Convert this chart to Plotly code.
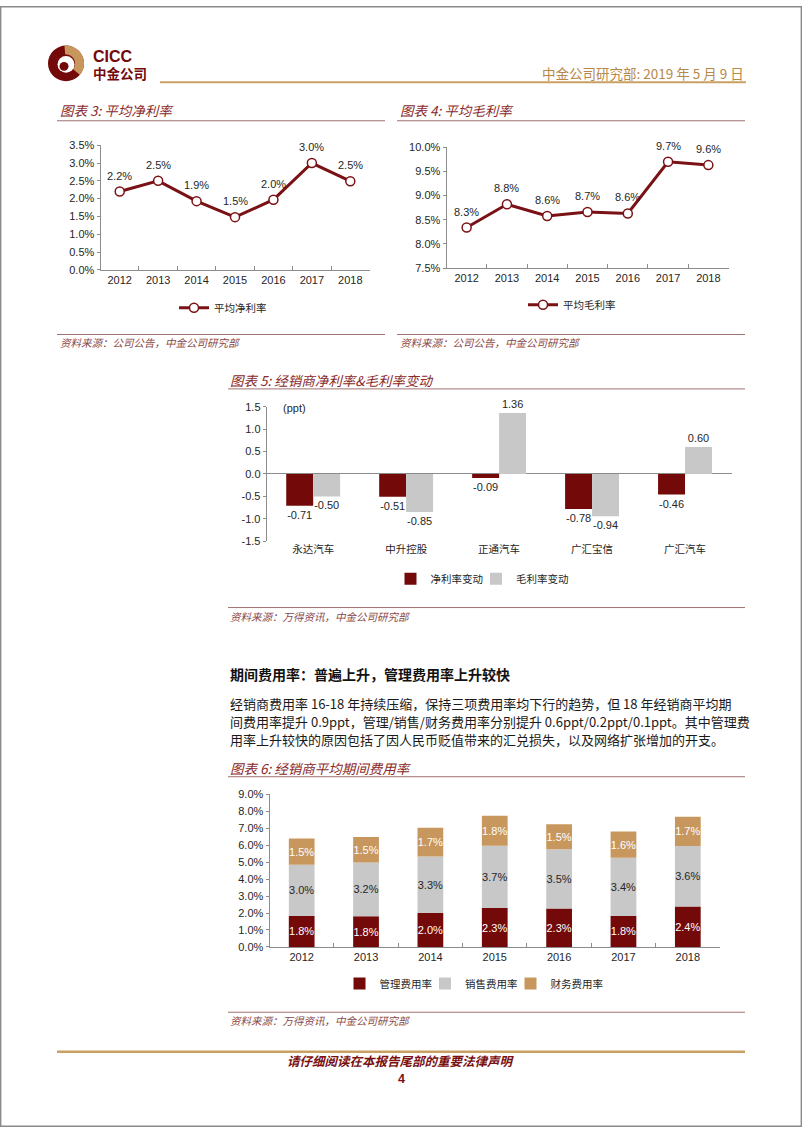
import math
import plotly.graph_objects as go

W, H = 802, 1133


def X(px):
    return px / W


def Y(py):
    return 1 - py / H


# ---------------- data ----------------
years = ["2012", "2013", "2014", "2015", "2016", "2017", "2018"]
avg_net_margin = [2.2, 2.5, 1.93, 1.48, 1.97, 3.0, 2.49]        # %
avg_gross_margin = [8.34, 8.82, 8.58, 8.66, 8.63, 9.70, 9.63]   # %

dealers = ["永达汽车", "中升控股", "正通汽车", "广汇宝信", "广汇汽车"]
net_margin_chg = [-0.71, -0.51, -0.09, -0.78, -0.46]            # ppt
gross_margin_chg = [-0.50, -0.85, 1.36, -0.94, 0.60]            # ppt
ppt_ticks = [-1.5, -1.0, -0.5, 0.0, 0.5, 1.0, 1.5]
ppt_ticktext = ["-1.5", "-1.0", "-0.5", "0.0", "0.5", "1.0", "1.5"]

admin_ratio = [1.84, 1.81, 2.00, 2.29, 2.27, 1.83, 2.39]        # %
selling_ratio = [3.01, 3.17, 3.33, 3.68, 3.49, 3.42, 3.56]      # %
finance_ratio = [1.54, 1.50, 1.69, 1.76, 1.47, 1.56, 1.73]      # %

# ---------------- styles ----------------
MAROON = "#7A1114"
DARK = "#730909"
GREY = "#C8C8C8"
TAN = "#C8975D"
AXIS = "#8C8C8C"
TXT = "#262626"
TITLE = "#8A2A2A"
SRC = "#8A4848"
GOLD = "#C9A063"
NUM = "Liberation Sans, Arial, sans-serif"
CJK = "Noto Sans CJK SC, sans-serif"

fig = go.Figure()

# Chart 3: average net margin
fig.add_trace(go.Scatter(
    x=years, y=avg_net_margin, mode="lines+markers",
    line=dict(color=MAROON, width=3),
    marker=dict(size=9, color="white", line=dict(color=MAROON, width=1.5)),
    name="平均净利率", xaxis="x", yaxis="y", legend="legend", cliponaxis=False))

# Chart 4: average gross margin
fig.add_trace(go.Scatter(
    x=years, y=avg_gross_margin, mode="lines+markers",
    line=dict(color=MAROON, width=3),
    marker=dict(size=9, color="white", line=dict(color=MAROON, width=1.5)),
    name="平均毛利率", xaxis="x2", yaxis="y2", legend="legend2", cliponaxis=False))

# Chart 5: change in margins
fig.add_trace(go.Bar(
    x=dealers, y=net_margin_chg, width=0.29, offset=-0.29,
    marker=dict(color=DARK, line=dict(width=0)),
    text=[f"{v:.2f}" for v in net_margin_chg], textposition="outside",
    constraintext="none", textangle=0, textfont=dict(family=NUM, size=11, color=TXT),
    name="净利率变动", xaxis="x3", yaxis="y3", legend="legend3", cliponaxis=False))
fig.add_trace(go.Bar(
    x=dealers, y=gross_margin_chg, width=0.29, offset=0,
    marker=dict(color=GREY, line=dict(width=0)),
    text=[f"{v:.2f}" for v in gross_margin_chg], textposition="outside",
    constraintext="none", textangle=0, textfont=dict(family=NUM, size=11, color=TXT),
    name="毛利率变动", xaxis="x3", yaxis="y3", legend="legend3", cliponaxis=False))

# Chart 6: stacked expense ratios
base_sell = admin_ratio
base_fin = [a + s for a, s in zip(admin_ratio, selling_ratio)]
for vals, base, col, tcol, nm in [
    (admin_ratio, [0] * len(admin_ratio), DARK, "white", "管理费用率"),
    (selling_ratio, base_sell, GREY, TXT, "销售费用率"),
    (finance_ratio, base_fin, TAN, "white", "财务费用率"),
]:
    fig.add_trace(go.Bar(
        x=years, y=vals, base=base, width=0.4, offset=-0.2,
        marker=dict(color=col, line=dict(width=0)),
        text=[f"{v:.1f}%" for v in vals], textposition="inside",
        insidetextanchor="middle", constraintext="none", textangle=0,
        textfont=dict(family=NUM, size=11, color=tcol),
        name=nm, xaxis="x4", yaxis="y4", legend="legend4"))

# ---------------- axes ----------------
def xax(d0, d1, anchor, n, size=11, family=NUM, line=True):
    return dict(domain=[X(d0), X(d1)], anchor=anchor, type="category",
                range=[-0.5, n - 0.5], showline=line, linecolor=AXIS, linewidth=1,
                ticks="inside" if line else "", tickson="boundaries", ticklen=4,
                tickcolor=AXIS, tickfont=dict(family=family, size=size, color=TXT),
                showgrid=False, zeroline=False, fixedrange=True)


def yax(top, bottom, anchor, rng, dtick, suffix="%"):
    return dict(domain=[Y(bottom), Y(top)], anchor=anchor, range=rng, dtick=dtick,
                tick0=0, tickformat=".1f", ticksuffix=suffix, showline=True,
                linecolor=AXIS, linewidth=1, ticks="outside", ticklen=3,
                tickcolor=AXIS, tickfont=dict(family=NUM, size=11, color=TXT),
                showgrid=False, zeroline=False, fixedrange=True)


layout_axes = dict(
    xaxis=xax(100.5, 369.5, "y", 7),
    yaxis=yax(140.7, 266.7, "x", [0, 3.5], 0.5),
    xaxis2=xax(446.5, 728.5, "y2", 7),
    yaxis2=yax(142.7, 265.0, "x2", [7.5, 10.0], 0.5),
    xaxis3=xax(266.7, 731.5, "y3", 5, size=10.5, family=CJK, line=False),
    yaxis3=dict(domain=[Y(541), Y(405)], anchor="x3", range=[-1.5, 1.5],
                tickvals=ppt_ticks, ticktext=ppt_ticktext, showline=True,
                linecolor=AXIS, ticks="outside", ticklen=3, tickcolor=AXIS,
                tickfont=dict(family=NUM, size=11, color=TXT), showgrid=False,
                zeroline=True, zerolinecolor=AXIS, zerolinewidth=1, fixedrange=True),
    xaxis4=xax(269.5, 720.0, "y4", 7),
    yaxis4=yax(796.7, 951.0, "x4", [0, 9], 1.0),
)


# ---------------- annotations ----------------
def txt(x, y, s, size, color, family=CJK, xanchor="left", weight="normal", style="normal"):
    return dict(x=X(x), y=Y(y), xref="paper", yref="paper", text=s, showarrow=False,
                xanchor=xanchor, yanchor="middle",
                font=dict(family=family, size=size, color=color, weight=weight, style=style))


annotations = [
    txt(746, 68, "中金公司研究部: 2019 年 5 月 9 日", 13.5, "#B8874A", xanchor="right"),
    txt(91, 51, "CICC", 16, DARK, family=NUM, weight="bold"),
    txt(91, 68, "中金公司", 13.5, DARK, weight="bold"),
    txt(58, 105, "图表 3: 平均净利率", 13.5, TITLE, style="italic"),
    txt(398, 105, "图表 4: 平均毛利率", 13.5, TITLE, style="italic"),
    txt(58, 340, "资料来源：公司公告，中金公司研究部", 10.5, SRC, style="italic"),
    txt(398, 340, "资料来源：公司公告，中金公司研究部", 10.5, SRC, style="italic"),
    txt(228, 378, "图表 5: 经销商净利率&毛利率变动", 13.5, TITLE, style="italic"),
    txt(281, 406, "(ppt)", 11, TXT, family=NUM),
    txt(228, 617, "资料来源：万得资讯，中金公司研究部", 10.5, SRC, style="italic"),
    txt(228, 675, "期间费用率：普遍上升，管理费用率上升较快", 14, "#111111", weight="bold"),
    txt(228, 705, "经销商费用率 16-18 年持续压缩，保持三项费用率均下行的趋势，但 18 年经销商平均期", 13, "#1a1a1a"),
    txt(228, 723, "间费用率提升 0.9ppt，管理/销售/财务费用率分别提升 0.6ppt/0.2ppt/0.1ppt。其中管理费", 13, "#1a1a1a"),
    txt(228, 741, "用率上升较快的原因包括了因人民币贬值带来的汇兑损失，以及网络扩张增加的开支。", 13, "#1a1a1a"),
    txt(228, 770, "图表 6: 经销商平均期间费用率", 13.5, TITLE, style="italic"),
    txt(228, 1025, "资料来源：万得资讯，中金公司研究部", 10.5, SRC, style="italic"),
    txt(401, 1066, "请仔细阅读在本报告尾部的重要法律声明", 12.5, "#7A1010", xanchor="center", weight="bold", style="italic"),
    txt(401, 1084, "4", 12.5, "#7A1010", family=NUM, xanchor="center", weight="bold"),
]

# value labels for the two line charts, placed through the chart axes
# (category axes: position given as category index)
for xr, yr, vals in [("x", "y", avg_net_margin), ("x2", "y2", avg_gross_margin)]:
    for i, v in enumerate(vals):
        annotations.append(dict(x=i, y=v, xref=xr, yref=yr, text=f"{v:.1f}%",
                                showarrow=False, yshift=16, xanchor="center",
                                yanchor="middle",
                                font=dict(family=NUM, size=11, color=TXT)))


# ---------------- shapes ----------------
def hline(x0, x1, y, color, width=1):
    return dict(type="line", xref="paper", yref="paper", x0=X(x0), x1=X(x1),
                y0=Y(y), y1=Y(y), line=dict(color=color, width=width))


def circle(cx, cy, r, color):
    return dict(type="circle", xref="paper", yref="paper", x0=X(cx - r), x1=X(cx + r),
                y0=Y(cy + r), y1=Y(cy - r), fillcolor=color, line=dict(width=0))


def annulus(cx, cy, r0, r1, a0, a1, color, n=40):
    pts = []
    for i in range(n + 1):
        a = math.radians(a0 + (a1 - a0) * i / n)
        pts.append((cx + r1 * math.cos(a), cy - r1 * math.sin(a)))
    for i in range(n + 1):
        a = math.radians(a1 - (a1 - a0) * i / n)
        pts.append((cx + r0 * math.cos(a), cy - r0 * math.sin(a)))
    path = "M " + " L ".join(f"{X(px):.5f},{Y(py):.5f}" for px, py in pts) + " Z"
    return dict(type="path", xref="paper", yref="paper", path=path,
                fillcolor=color, line=dict(width=0))


RULE = "#A07070"
shapes = [
    dict(type="rect", xref="paper", yref="paper", x0=0.0008, x1=0.9992, y0=0.0006, y1=0.9994,
         line=dict(color="#8a8a8a", width=1.5)),
    circle(66, 58, 18, DARK),
    annulus(66, 58, 9, 18, -40, 95, TAN),
    circle(66, 59, 8.5, "white"),
    circle(64, 61, 4.5, DARK),
    hline(160, 746, 77, GOLD, 2),
    hline(57, 385, 116, RULE, 1),
    hline(397, 745, 116, RULE, 1),
    hline(57, 385, 332, RULE, 1),
    hline(397, 745, 332, RULE, 1),
    hline(228, 745, 387, RULE, 1),
    hline(228, 745, 608, RULE, 1),
    hline(228, 745, 779, RULE, 1),
    hline(228, 745, 1017, RULE, 1),
    hline(57, 745, 1057, GOLD, 2.5),
]


def legend_at(cx, cy, indent=0):
    return dict(x=X(cx), y=Y(cy), xanchor="center", yanchor="middle", orientation="h",
                font=dict(family=CJK, size=10.5, color=TXT), bgcolor="rgba(0,0,0,0)",
                itemclick=False, itemdoubleclick=False, traceorder="normal",
                indentation=indent)


fig.update_layout(
    width=W, height=H, margin=dict(l=0, r=0, t=0, b=0),
    paper_bgcolor="white", plot_bgcolor="white",
    barmode="overlay", showlegend=True,
    legend=legend_at(223, 305),
    legend2=legend_at(572, 302),
    legend3=legend_at(488, 579, -12),
    legend4=legend_at(480, 988, -12),
    annotations=annotations, shapes=shapes,
    **layout_axes,
)

fig.write_html("out.html", config={"displayModeBar": False, "staticPlot": True},
               post_script="document.body.style.margin='0';")
